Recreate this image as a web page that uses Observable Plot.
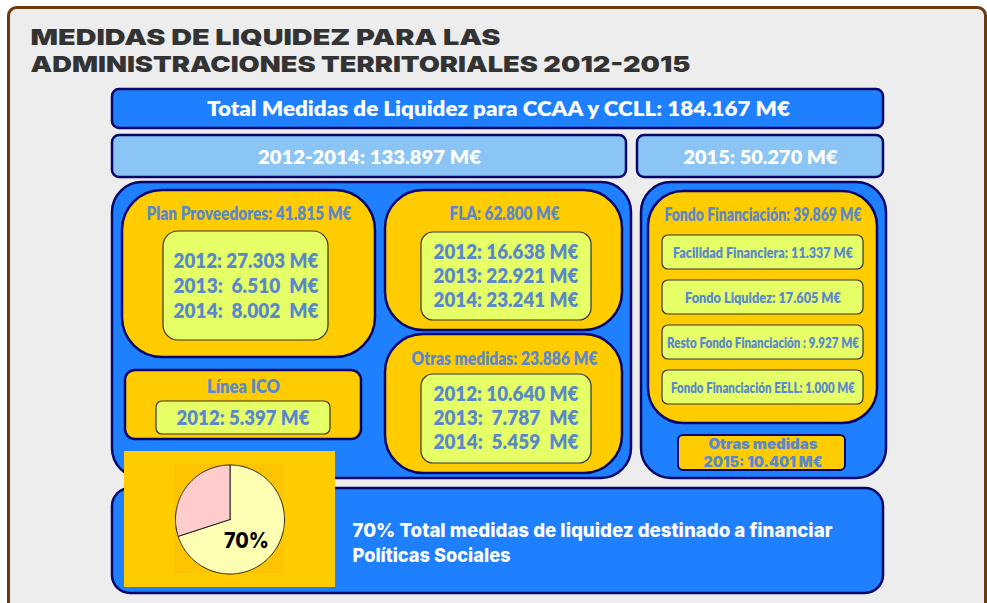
<!DOCTYPE html>
<html>
<head>
<meta charset="utf-8">
<script src="https://cdn.jsdelivr.net/npm/d3@7"></script>
<script src="https://cdn.jsdelivr.net/npm/@observablehq/plot@0.6"></script>
<style>
  html, body { margin: 0; padding: 0; background: #ffffff; }
  #chart svg text { white-space: pre; }
</style>
</head>
<body>
<div id="chart"></div>
<script>
// ---------- DATA ----------
const titleLines = ["MEDIDAS DE LIQUIDEZ PARA LAS", "ADMINISTRACIONES TERRITORIALES 2012-2015"];
const totalLabel = "Total Medidas de Liquidez para CCAA y CCLL: 184.167 M€";
const periodLabels = ["2012-2014: 133.897 M€", "2015: 50.270 M€"];
const groupTitles = ["Plan Proveedores: 41.815 M€", "FLA: 62.800 M€", "Otras medidas: 23.886 M€", "Línea ICO", "Fondo Financiación: 39.869 M€"];
const planProveedoresYears = ["2012: 27.303 M€", "2013:  6.510  M€", "2014:  8.002  M€"];
const flaYears = ["2012: 16.638 M€", "2013: 22.921 M€", "2014: 23.241 M€"];
const otrasYears = ["2012: 10.640 M€", "2013:  7.787  M€", "2014:  5.459  M€"];
const icoYears = ["2012: 5.397 M€"];
const fondoItems = ["Facilidad Financiera: 11.337 M€", "Fondo Liquidez: 17.605 M€", "Resto Fondo Financiación : 9.927 M€", "Fondo Financiación EELL: 1.000 M€"];
const otras2015 = ["Otras medidas", "2015: 10.401 M€"];
const pieLabels = ["Políticas Sociales", "Resto"];
const pieValues = [70, 30];
const pieText = "70%";
const bottomLines = ["70% Total medidas de liquidez destinado a financiar", "Políticas Sociales"];

// ---------- LAYOUT / STYLE ----------
const C = {
  bg: "#ededed", frame: "#6b3a0e", blue: "#1e7fff", navy: "#07076b", light: "#8ac5f5",
  orange: "#ffcc00", lime: "#e6ff66", steel: "#5a88cc", title: "#333333"
};
const boxes = [
  {x1: 8.5, x2: 985.5, y1: 7.5, y2: 660, fill: C.bg, stroke: C.frame, sw: 3, rx: 8},
  {x1: 112, x2: 883, y1: 89, y2: 128, fill: C.blue, stroke: C.navy, sw: 2.5, rx: 7},
  {x1: 112, x2: 626, y1: 135, y2: 177, fill: C.light, stroke: C.navy, sw: 2.5, rx: 7},
  {x1: 637, x2: 883, y1: 135, y2: 177, fill: C.light, stroke: C.navy, sw: 2.5, rx: 7},
  {x1: 112, x2: 631, y1: 182, y2: 478, fill: C.blue, stroke: C.navy, sw: 2.5, rx: 30},
  {x1: 641, x2: 886, y1: 182, y2: 478, fill: C.blue, stroke: C.navy, sw: 2.5, rx: 30},
  {x1: 122, x2: 375, y1: 190, y2: 357, fill: C.orange, stroke: C.navy, sw: 2.5, rx: 40},
  {x1: 163, x2: 328, y1: 231, y2: 340, fill: C.lime, stroke: "#333", sw: 1.2, rx: 15},
  {x1: 385, x2: 622, y1: 190, y2: 330, fill: C.orange, stroke: C.navy, sw: 2.5, rx: 38},
  {x1: 421, x2: 591, y1: 232, y2: 320, fill: C.lime, stroke: "#333", sw: 1.2, rx: 12},
  {x1: 385, x2: 622, y1: 334, y2: 473, fill: C.orange, stroke: C.navy, sw: 2.5, rx: 38},
  {x1: 421, x2: 591, y1: 374, y2: 463, fill: C.lime, stroke: "#333", sw: 1.2, rx: 12},
  {x1: 125, x2: 361, y1: 370, y2: 439, fill: C.orange, stroke: C.navy, sw: 2.5, rx: 10},
  {x1: 156, x2: 330, y1: 401, y2: 434, fill: C.lime, stroke: "#333", sw: 1.2, rx: 6},
  {x1: 648, x2: 877, y1: 191, y2: 423, fill: C.orange, stroke: C.navy, sw: 2.5, rx: 35},
  {x1: 662, x2: 863, y1: 235, y2: 269, fill: C.lime, stroke: "#333", sw: 1.2, rx: 6},
  {x1: 662, x2: 863, y1: 280, y2: 314, fill: C.lime, stroke: "#333", sw: 1.2, rx: 6},
  {x1: 662, x2: 863, y1: 325, y2: 359, fill: C.lime, stroke: "#333", sw: 1.2, rx: 6},
  {x1: 662, x2: 863, y1: 370, y2: 404, fill: C.lime, stroke: "#333", sw: 1.2, rx: 6},
  {x1: 678, x2: 845, y1: 435, y2: 470, fill: C.orange, stroke: C.navy, sw: 2, rx: 5},
  {x1: 112, x2: 883, y1: 488, y2: 593, fill: C.blue, stroke: C.navy, sw: 2.5, rx: 18},
  {x1: 124, x2: 335, y1: 451, y2: 587, fill: C.orange, stroke: "none", sw: 0, rx: 0},
  {x1: 174, x2: 284, y1: 464, y2: 573, fill: "#ffc400", stroke: "none", sw: 0, rx: 0}
];

const F = "Lato, 'Open Sans', sans-serif";
const FH = "Inter, Lato, sans-serif";
// text entries: value, position, style, target width
const texts = [
  {t: titleLines[0], x: 30, y: 37.5, a: "start", fs: 22, fw: 900, ff: FH, c: C.title, w: 470},
  {t: titleLines[1], x: 30, y: 64.5, a: "start", fs: 22, fw: 900, ff: FH, c: C.title, w: 660},
  {t: totalLabel, x: 498, y: 109, a: "middle", fs: 20, fw: 800, ff: F, c: "#fff", w: 583},
  {t: periodLabels[0], x: 369, y: 157, a: "middle", fs: 19, fw: 800, ff: F, c: "#fff", w: 223},
  {t: periodLabels[1], x: 760, y: 157, a: "middle", fs: 19, fw: 800, ff: F, c: "#fff", w: 154},
  {t: groupTitles[0], x: 248.5, y: 214, a: "middle", fs: 18, fw: 800, ff: F, c: C.steel, w: 205},
  {t: groupTitles[1], x: 504, y: 214, a: "middle", fs: 18, fw: 800, ff: F, c: C.steel, w: 110},
  {t: groupTitles[2], x: 504, y: 359, a: "middle", fs: 18, fw: 800, ff: F, c: C.steel, w: 186},
  {t: groupTitles[3], x: 243, y: 387, a: "middle", fs: 18, fw: 800, ff: F, c: C.steel, w: 73},
  {t: groupTitles[4], x: 762.5, y: 215, a: "middle", fs: 18, fw: 800, ff: F, c: C.steel, w: 197},
  ...planProveedoresYears.map((t, i) => ({t, x: 173, y: [261, 286, 311][i], a: "start", fs: 21, fw: 800, ff: F, c: C.steel, w: 145})),
  ...flaYears.map((t, i) => ({t, x: 433, y: [252, 276, 300][i], a: "start", fs: 21, fw: 800, ff: F, c: C.steel, w: 145})),
  ...otrasYears.map((t, i) => ({t, x: 433, y: [394, 418, 442][i], a: "start", fs: 21, fw: 800, ff: F, c: C.steel, w: 145})),
  {t: icoYears[0], x: 176, y: 418, a: "start", fs: 20, fw: 800, ff: F, c: C.steel, w: 133},
  ...fondoItems.map((t, i) => ({t, x: 762.5, y: [253, 298, 343, 388][i], a: "middle", fs: 14, fw: 800, ff: F, c: C.steel, w: [180, 156, 192, 184][i]})),
  {t: otras2015[0], x: 762.5, y: 444, a: "middle", fs: 14, fw: 900, ff: FH, c: C.steel, w: 109},
  {t: otras2015[1], x: 762.5, y: 462, a: "middle", fs: 14, fw: 900, ff: FH, c: C.steel, w: 119},
  {t: bottomLines[0], x: 352, y: 530, a: "start", fs: 19, fw: 800, ff: FH, c: "#fff", w: 480},
  {t: bottomLines[1], x: 352, y: 555, a: "start", fs: 19, fw: 800, ff: FH, c: "#fff", w: 158},
  {t: pieText, x: 246, y: 540, a: "middle", fs: 22, fw: 800, ff: FH, c: "#000", w: 45}
];

// pie geometry (center and radius in layout units)
const pieCenter = {cx: 229.5, cy: 519, r: 54.5};
const pieColors = ["#ffffb3", "#ffcccc"];
const arcs = d3.pie().sort(null)(pieValues);
const slices = arcs.map((a, i) => {
  const n = Math.max(8, Math.ceil((a.endAngle - a.startAngle) / 0.02));
  const pts = [{x: pieCenter.cx, y: pieCenter.cy}];
  for (let k = 0; k <= n; k++) {
    const ang = a.startAngle + (a.endAngle - a.startAngle) * k / n;
    pts.push({x: pieCenter.cx + pieCenter.r * Math.sin(ang), y: pieCenter.cy - pieCenter.r * Math.cos(ang)});
  }
  pts.push({x: pieCenter.cx, y: pieCenter.cy});
  return {label: pieLabels[i], fill: pieColors[i], pts};
});

// ---------- PLOT ----------
const marks = [];
for (const b of boxes) {
  marks.push(Plot.rect([b], {x1: "x1", x2: "x2", y1: "y1", y2: "y2",
    fill: b.fill, stroke: b.stroke, strokeWidth: b.sw, rx: b.rx, ry: b.rx}));
}
for (const s of slices) {
  marks.push(Plot.line(s.pts, {x: "x", y: "y", fill: s.fill, stroke: "#222", strokeWidth: 1, curve: "linear"}));
}
for (const d of texts) {
  marks.push(Plot.text([d], {x: "x", y: "y", text: "t", textAnchor: d.a, fontSize: d.fs,
    fontWeight: d.fw, fill: d.c, fontFamily: d.ff}));
}

const plot = Plot.plot({
  width: 987, height: 603,
  margin: 0,
  x: {type: "linear", domain: [0, 987], range: [0, 987], axis: null},
  y: {type: "linear", domain: [0, 603], range: [0, 603], axis: null},
  style: {background: "transparent", overflow: "hidden"},
  marks
});
document.getElementById("chart").appendChild(plot);

// fit texts to their measured widths
const byText = new Map(texts.map(d => [d.t, d]));
plot.querySelectorAll("text").forEach(el => {
  const d = byText.get(el.textContent);
  if (d && d.w) {
    el.setAttribute("textLength", d.w);
    el.setAttribute("lengthAdjust", "spacingAndGlyphs");
  }
});
</script>
</body>
</html>
